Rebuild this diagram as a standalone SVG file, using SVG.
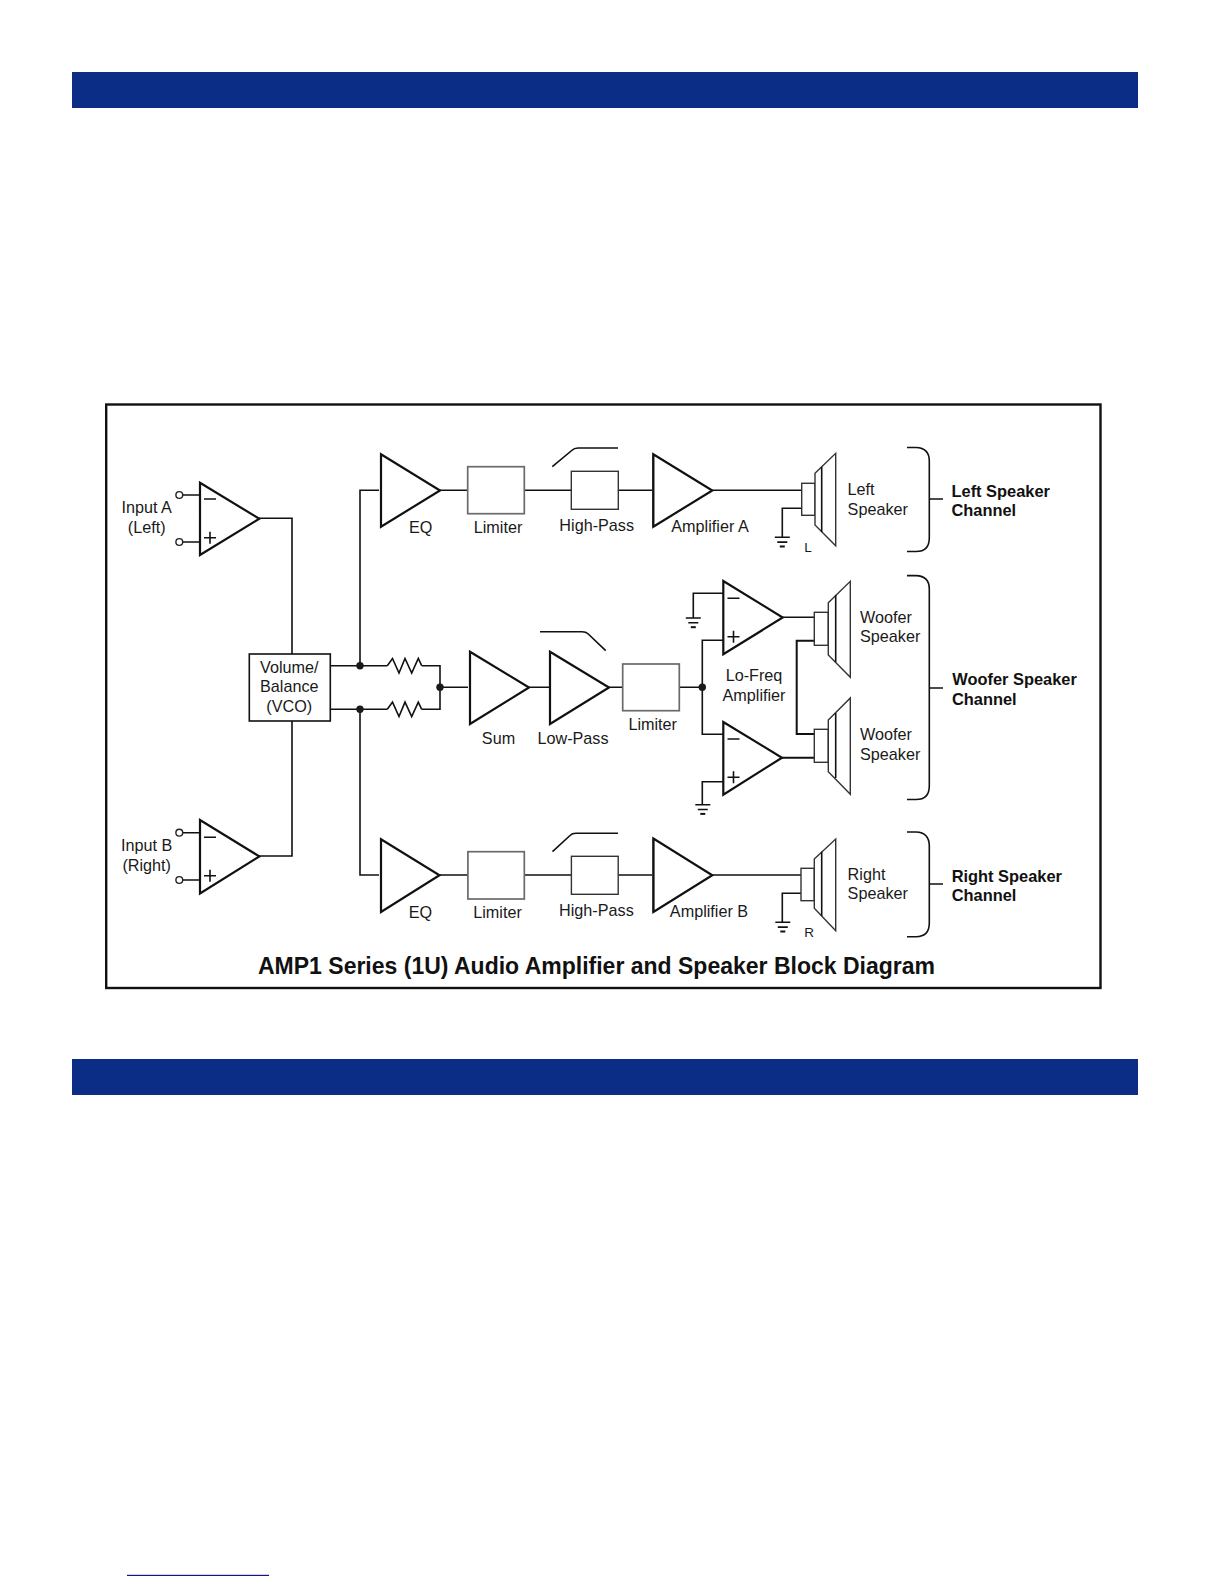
<svg xmlns="http://www.w3.org/2000/svg" width="1224" height="1584" viewBox="0 0 1224 1584">
<style>
text{font-family:"Liberation Sans",Arial,sans-serif;font-size:16.2px;fill:#1a1a1a}
.m{text-anchor:middle}
.b{font-weight:bold;fill:#111;font-size:16.4px}
.w{fill:none;stroke:#111;stroke-width:1.6}
.t{fill:#fff;stroke:#111;stroke-width:2.2}
.g{fill:#fff;stroke:#6a6a6a;stroke-width:1.7}
.k{fill:#fff;stroke:#333;stroke-width:1.4}
.d{fill:#1a1a1a}
.c{fill:#fff;stroke:#222;stroke-width:1.4}
.bar{fill:#0b2d85}
</style>
<defs>
<g id="gnd" class="w"><path d="M-7.5 0H7.5M-5 4.8H5"/><path d="M-2.5 9.2H2.5" stroke-width="2"/></g>
<path id="res" class="w" d="M0 0L5.2-7.2 11.7 7.3 17.7-7.2 24.4 7.3 31-7.2 34.4 0"/>
</defs>
<rect width="1224" height="1584" fill="#fff"/>
<rect id="bar-top" class="bar" x="72" y="72" width="1066" height="36"/>
<rect id="bar-mid" class="bar" x="72" y="1059" width="1066" height="36"/>
<rect id="footer-rule" x="127" y="1574.8" width="142" height="1.2" fill="#15157a"/>
<rect id="frame" x="106.2" y="404.5" width="994.3" height="583.5" fill="none" stroke="#111" stroke-width="2.4"/>

<g id="connectors" class="w">
<path d="M183 495H200M183 542H200M259 518.3H292V654"/>
<path d="M183 832.7H200M183 880H200M259 856H292V721"/>
<path d="M330 665.7H387.3M421.7 665.7H440V709.3H421.7M387.3 709.3H330M440 687.3H468"/>
<path d="M379 490.3H360V665.7M360 709.3V875H379"/>
<path d="M440 490.3H468M524 490.3H571.3M618.3 490.3H652M712.3 490.3H801.7"/>
<path d="M440 875H468M524 875H571.4M618.2 875H652M712.3 875H801"/>
<path d="M529 687.3H549M609 687.3H623M679.3 687.3H702.3M723 640.3H702.3V734.3H723"/>
<path d="M782.7 617.3H814.3"/>
<path d="M814.3 640.7H796.7V734H814.3M782 757.7H814.3" stroke-width="2"/>
<path d="M723 593.3H693.3V618M723 781.7H702.3V804.5"/>
<path d="M801.7 508.3H782.3V537M801 893.3H782.3V922"/>
<path d="M929.3 499H943M929.3 688H943M929.3 884H943"/>
</g>

<g id="resistors">
<use href="#res" x="387.3" y="665.7"/>
<use href="#res" x="387.3" y="709.3"/>
</g>
<g id="junctions">
<circle class="d" cx="360" cy="665.7" r="3.7"/>
<circle class="d" cx="360" cy="709.3" r="3.7"/>
<circle class="d" cx="440" cy="687.3" r="3.7"/>
<circle class="d" cx="702.3" cy="687.3" r="3.7"/>
</g>
<g id="grounds">
<use href="#gnd" x="782.3" y="537.3"/>
<use href="#gnd" x="693.3" y="618"/>
<use href="#gnd" x="702.8" y="804.7"/>
<use href="#gnd" x="782.8" y="922.3"/>
</g>

<g id="input-a">
<circle class="c" cx="179.3" cy="495" r="3.4"/><circle class="c" cx="179.3" cy="542" r="3.4"/>
<path class="t" d="M200 482.7V555L259.3 518.8Z"/>
<path class="w" d="M204 499H216M204 537.7H216M210 531.7V543.7"/>
<text class="m" x="146.7" y="513.3">Input A</text><text class="m" x="146.7" y="532.7">(Left)</text>
</g>
<g id="input-b">
<circle class="c" cx="179.3" cy="832.7" r="3.4"/><circle class="c" cx="179.3" cy="880" r="3.4"/>
<path class="t" d="M200 820V893.5L259.3 856.4Z"/>
<path class="w" d="M204 837.3H216M204 875.7H216M210 869.7V881.7"/>
<text class="m" x="146.7" y="851.2">Input B</text><text class="m" x="146.7" y="870.7">(Right)</text>
</g>
<g id="vco">
<rect x="249.3" y="654" width="81" height="67" fill="#fff" stroke="#111" stroke-width="1.6"/>
<text class="m" x="289.3" y="672.8">Volume/</text><text class="m" x="289.3" y="692.2">Balance</text><text class="m" x="289.3" y="711.7">(VCO)</text>
</g>

<g id="eq-a"><path class="t" d="M381 454.3V526.7L440 490.5Z"/><text class="m" x="420.7" y="532.7">EQ</text></g>
<g id="limiter-a"><rect class="g" x="467.7" y="466.7" width="56.6" height="47"/><text class="m" x="498" y="532.7">Limiter</text></g>
<g id="highpass-a"><rect class="k" x="571.3" y="471.3" width="47" height="38"/><path class="w" stroke-width="1.2" d="M552.3 466.7L572 450.3Q574 448 578 448H618"/><text class="m" x="596.7" y="531.3">High-Pass</text></g>
<g id="amp-a"><path class="t" d="M653.3 454.3V526.7L712.3 490.5Z"/><path class="w" stroke-width="2.8" d="M653.3 454.3V526.7"/><text class="m" x="710" y="531.7">Amplifier A</text></g>
<g id="speaker-left">
<rect class="k" x="801.7" y="483.3" width="13.3" height="32"/>
<path class="k" d="M815 473.3L835.7 453.3V545.7L815 525Z"/><path class="w" stroke-width="1.2" d="M821.7 466.7V532"/>
<text x="847.6" y="495.3">Left</text><text x="847.6" y="515">Speaker</text>
<text class="m" x="808" y="551.5" style="font-size:13.5px">L</text>
</g>

<g id="sum"><path class="t" d="M470 651.7V724L529 687.5Z"/><text class="m" x="498.5" y="744">Sum</text></g>
<g id="lowpass"><path class="t" d="M550 651.7V724L609 687.5Z"/><path class="w" stroke-width="1.2" d="M540 631.7H582Q586 631.7 588 633.7L605.7 650.7"/><text class="m" x="573" y="744">Low-Pass</text></g>
<g id="limiter-w"><rect class="g" x="622.7" y="664" width="56.6" height="46.7"/><text class="m" x="652.7" y="729.5">Limiter</text></g>
<g id="lofreq-amp">
<path class="t" d="M723.3 581V654.3L782.7 617.5Z"/>
<path class="w" d="M727.5 598.3H739.5M727.5 636.7H739.5M733.5 630.7V642.7"/>
<path class="t" d="M723.3 722V794.7L782 757.7Z"/>
<path class="w" d="M727.5 739H739.5M727.5 777.3H739.5M733.5 771.3V783.3"/>
<text class="m" x="754" y="681.2">Lo-Freq</text><text class="m" x="754" y="700.5">Amplifier</text>
</g>
<g id="woofer-1">
<rect class="k" x="814.3" y="612.3" width="14" height="33"/>
<path class="k" d="M828.3 602.7L850.3 581.3V677.3L828.3 655Z"/><path class="w" stroke-width="1.2" d="M835.7 595V662"/>
<text x="860" y="623">Woofer</text><text x="860" y="642.4">Speaker</text>
</g>
<g id="woofer-2">
<rect class="k" x="814.3" y="729.3" width="14" height="33"/>
<path class="k" d="M828.3 720L850.3 698V794.3L828.3 771.7Z"/><path class="w" stroke-width="1.2" d="M835.7 713V778"/>
<text x="860" y="740">Woofer</text><text x="860" y="760">Speaker</text>
</g>

<g id="eq-b"><path class="t" d="M381 839.3V912L439.5 875.3Z"/><text class="m" x="420.5" y="917.8">EQ</text></g>
<g id="limiter-b"><rect class="g" x="467.9" y="851.7" width="56.4" height="47.3"/><text class="m" x="497.5" y="917.8">Limiter</text></g>
<g id="highpass-b"><rect class="k" x="571.4" y="856.3" width="46.8" height="38"/><path class="w" stroke-width="1.2" d="M552.5 851.7L570 835.5Q572 833.3 576 833.3H618"/><text class="m" x="596.4" y="916">High-Pass</text></g>
<g id="amp-b"><path class="t" d="M653.4 838.6V912L712.3 875.3Z"/><path class="w" stroke-width="2.8" d="M653.4 838.6V912"/><text class="m" x="709" y="917.2">Amplifier B</text></g>
<g id="speaker-right">
<rect class="k" x="801" y="868.3" width="13.3" height="32.4"/>
<path class="k" d="M814.3 859L835.7 839V930.7L814.3 908.3Z"/><path class="w" stroke-width="1.2" d="M821.7 851.7V916"/>
<text x="847.6" y="880">Right</text><text x="847.6" y="899.3">Speaker</text>
<text class="m" x="809" y="936.5" style="font-size:13.5px">R</text>
</g>

<g id="brace-left"><path class="w" d="M907 447.5H916Q929.3 448 929.3 461V538Q929.3 551.5 916 551.5H907"/><text class="b" x="951.5" y="496.5">Left Speaker</text><text class="b" x="951.5" y="516">Channel</text></g>
<g id="brace-woofer"><path class="w" d="M907 575.6H916Q929.3 576 929.3 589V786Q929.3 799.5 916 799.5H907"/><text class="b" x="952.3" y="685">Woofer Speaker</text><text class="b" x="952" y="704.5">Channel</text></g>
<g id="brace-right"><path class="w" d="M907 832H916Q929.3 832.5 929.3 846V923Q929.3 936.7 916 936.7H907"/><text class="b" x="951.7" y="881.7">Right Speaker</text><text class="b" x="951.7" y="901">Channel</text></g>

<text id="title" class="b m" x="596.5" y="974" style="font-size:23px">AMP1 Series (1U) Audio Amplifier and Speaker Block Diagram</text>
</svg>
